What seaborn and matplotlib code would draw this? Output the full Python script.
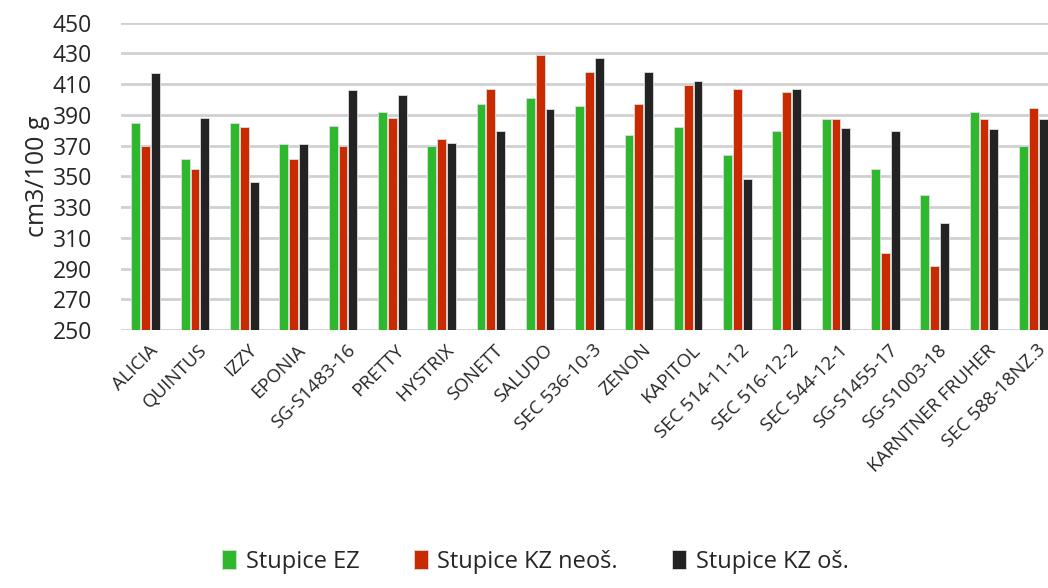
import matplotlib
matplotlib.use("Agg")
import matplotlib.pyplot as plt
import matplotlib.transforms as mtransforms
import seaborn as sns
import pandas as pd

# data
cultivars = ["ALICIA", "QUINTUS", "IZZY", "EPONIA", "SG-S1483-16", "PRETTY", "HYSTRIX",
             "SONETT", "SALUDO", "SEC 536-10-3", "ZENON", "KAPITOL", "SEC 514-11-12",
             "SEC 516-12-2", "SEC 544-12-1", "SG-S1455-17", "SG-S1003-18",
             "KARNTNER FRUHER", "SEC 588-18NZ.3"]
stupice_ez = [385, 361, 385, 371, 383, 392, 370, 397, 401, 396, 377, 382, 364,
              379.5, 387.5, 354.5, 338, 392, 370]
stupice_kz_neos = [370, 355, 382, 361, 370, 388, 374.5, 407, 429, 418, 397, 409.5, 407,
                   405, 387.5, 300, 291.5, 387.5, 394.5]
stupice_kz_os = [417, 388, 346.5, 371, 406, 403, 372, 379.5, 394, 427, 418, 412, 348,
                 407, 381.5, 379.5, 319.5, 381, 387.5]
series_names = ["Stupice EZ", "Stupice KZ neoš.", "Stupice KZ oš."]
colors = ["#2EB82E", "#C92A00", "#232323"]

rows = []
for name, vals in zip(series_names, [stupice_ez, stupice_kz_neos, stupice_kz_os]):
    for c, v in zip(cultivars, vals):
        rows.append({"cultivar": c, "value": v, "series": name})
df = pd.DataFrame(rows)

sns.set_style("white")
plt.rcParams["font.family"] = ["Open Sans", "DejaVu Sans"]

fig = plt.figure(figsize=(10.48, 5.88), dpi=100)
ax = fig.add_axes([0.1155, 0.4388, 0.894, 0.5226])

sns.barplot(data=df, x="cultivar", y="value", hue="series", palette=colors,
            saturation=1, width=0.6, gap=0.1, edgecolor="#dddddd", linewidth=0.6,
            ax=ax, zorder=3)

ax.set_ylim(250, 450)
ax.set_yticks(range(250, 451, 20))
ax.set_xlim(-0.5, len(cultivars) - 0.5)
ax.yaxis.grid(True, color="#d0d0d0", linewidth=2, zorder=0)
ax.set_axisbelow(True)
for s in ["top", "right", "left", "bottom"]:
    ax.spines[s].set_visible(False)
ax.tick_params(axis="both", length=0)
ax.tick_params(axis="y", labelsize=16.5, pad=21)
ax.set_xticks(range(len(cultivars)))
ax.set_xticklabels(cultivars, rotation=45, ha="right", rotation_mode="anchor",
                   fontsize=13.5)
ax.tick_params(axis="x", pad=8)
shift = mtransforms.ScaledTranslation(2 / 72, 0, fig.dpi_scale_trans)
for lbl in ax.get_xticklabels():
    lbl.set_transform(lbl.get_transform() + shift)
ax.set_xlabel("")
ax.set_ylabel("cm3/100 g", fontsize=18, labelpad=2)

handles, labels = ax.get_legend_handles_labels()
ax.legend_.remove()
fig.legend(handles, labels, loc="lower center", bbox_to_anchor=(0.511, -0.012),
           ncol=3, frameon=False, fontsize=17, handlelength=0.6,
           handleheight=0.85, handletextpad=0.4, columnspacing=2.3)

fig.savefig("out.png", dpi=100)
